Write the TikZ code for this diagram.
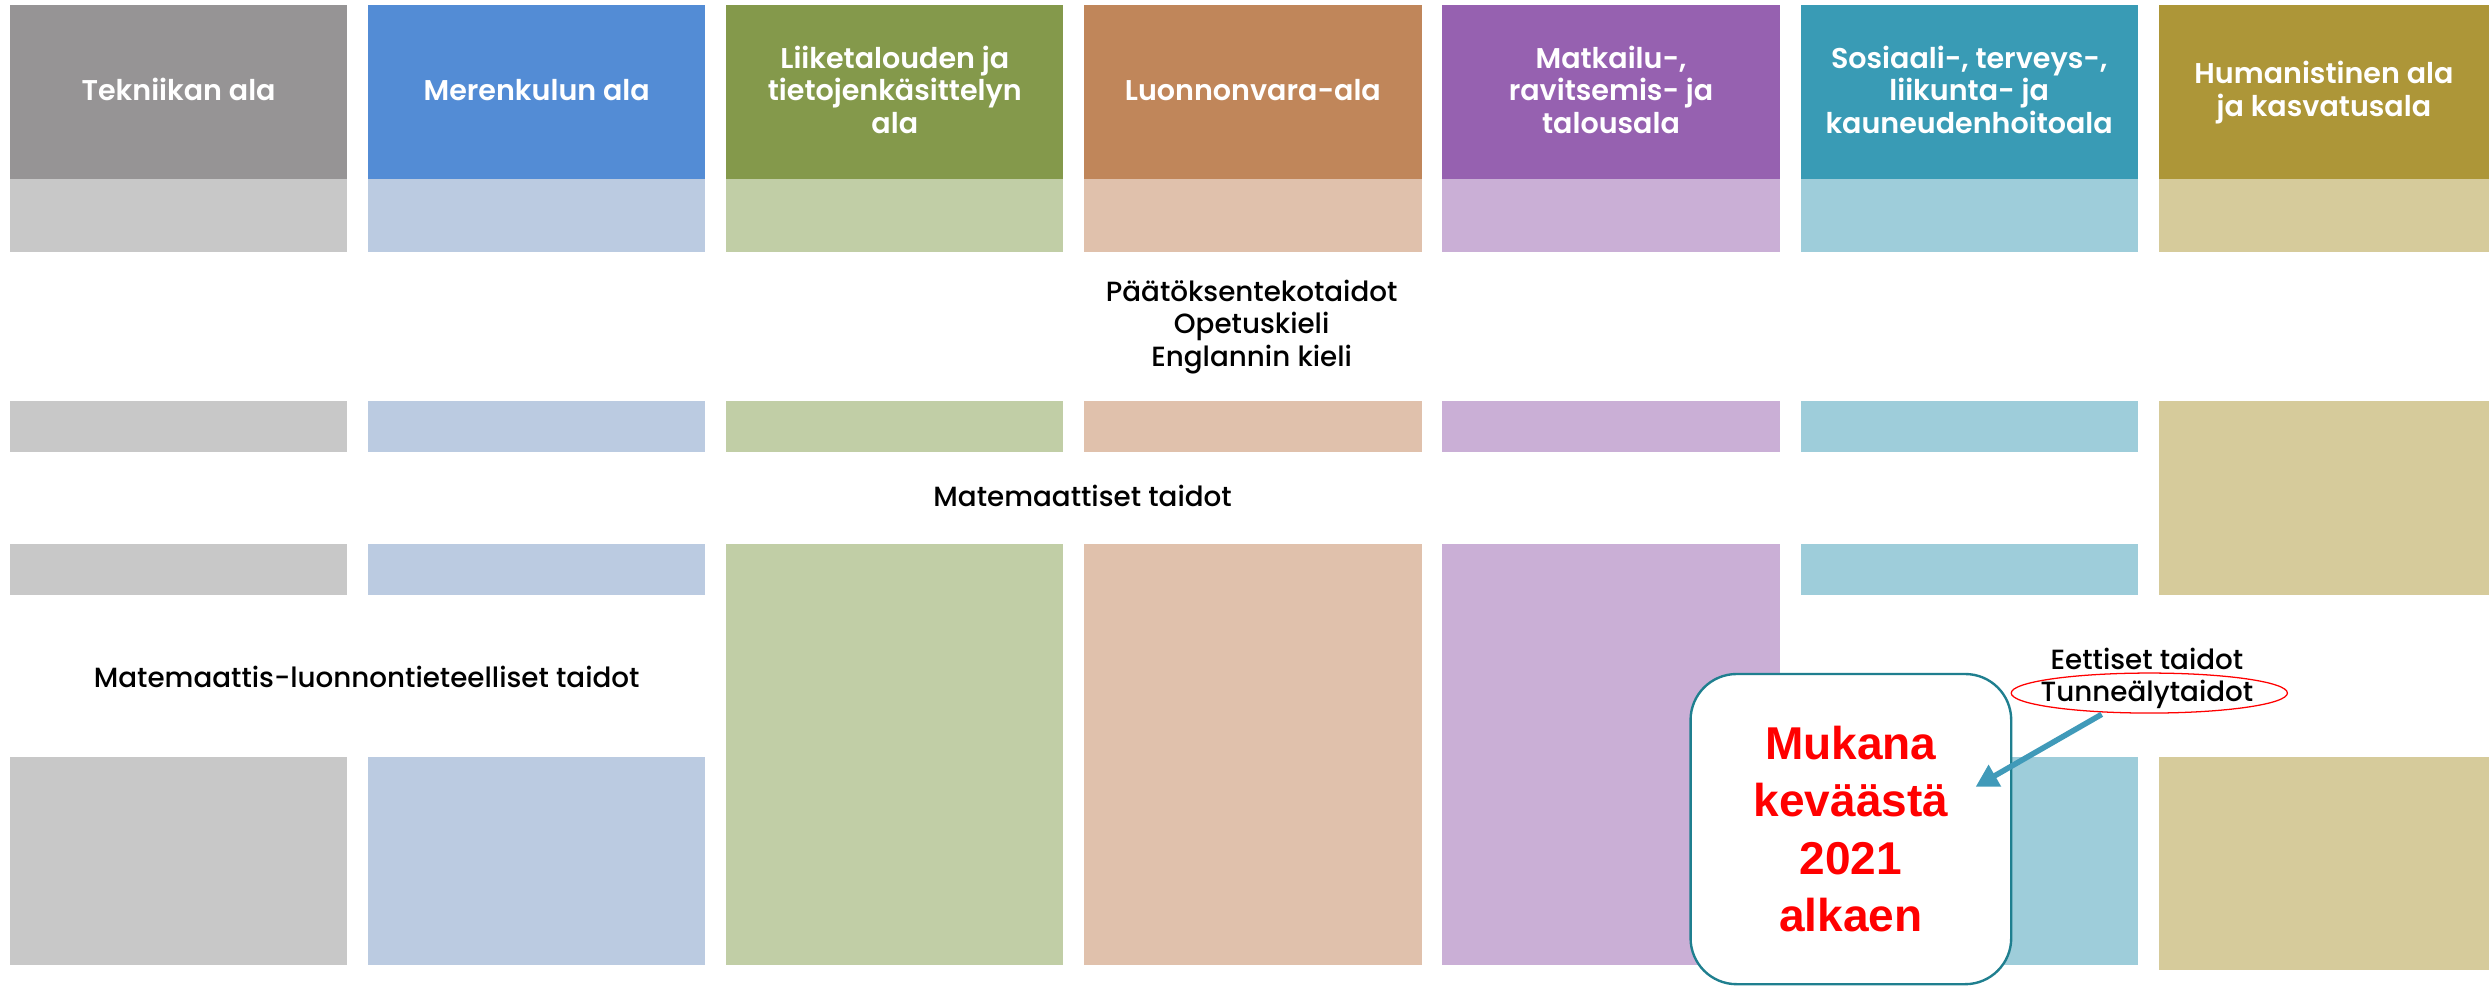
\documentclass[tikz,border=0pt]{standalone}
\usepackage{fontspec}
\setmainfont{Poppins}[BoldFont={Poppins SemiBold}]
\newfontfamily\medfont{Poppins Medium}
\newfontfamily\arialfont{Liberation Sans}
\usetikzlibrary{shapes.geometric,arrows.meta}
\definecolor{c1d}{HTML}{969495}\definecolor{c1l}{HTML}{C8C8C8}
\definecolor{c2d}{HTML}{538CD5}\definecolor{c2l}{HTML}{BBCBE1}
\definecolor{c3d}{HTML}{84994B}\definecolor{c3l}{HTML}{C1CEA6}
\definecolor{c4d}{HTML}{C0865A}\definecolor{c4l}{HTML}{E0C1AC}
\definecolor{c5d}{HTML}{9661B0}\definecolor{c5l}{HTML}{CAAFD6}
\definecolor{c6d}{HTML}{399BB5}\definecolor{c6l}{HTML}{9ECDDA}
\definecolor{c7d}{HTML}{AD9638}\definecolor{c7l}{HTML}{D6CB9B}
\definecolor{calloutc}{HTML}{1F7F8F}
\definecolor{arrowc}{HTML}{409AB9}
\begin{document}
\begin{tikzpicture}[x=1pt,y=-1pt,
  hdr/.style={font=\bfseries\fontsize{18}{20.5}\selectfont, text=white, align=center, inner sep=0},
  lbl/.style={font=\medfont\fontsize{17.5}{20.5}\selectfont, text=black, align=center, inner sep=0},
  callout/.style={draw=calloutc, line width=1.5, fill=white, rounded corners=29,
    minimum width=202, minimum height=195.4, inner sep=0, align=center, text=red,
    font=\arialfont\bfseries\fontsize{29}{36}\selectfont},
  pointer/.style={draw=arrowc, line width=3.5, -{Triangle[length=14pt,width=15pt]}}]
\useasboundingbox (0,0) rectangle (1568,622);
\fill[white] (0,0) rectangle (1568,622);
% header dark boxes
\fill[c1d] (6.3,3.2) rectangle (218.7,113);
\fill[c2d] (231.9,3.2) rectangle (444.3,113);
\fill[c3d] (457.5,3.2) rectangle (669.9,113);
\fill[c4d] (683.1,3.2) rectangle (895.5,113);
\fill[c5d] (908.7,3.2) rectangle (1121.1,113);
\fill[c6d] (1134.3,3.2) rectangle (1346.7,113);
\fill[c7d] (1359.9,3.2) rectangle (1568,113);
% header light bands
\fill[c1l] (6.3,113) rectangle (218.7,158.5);
\fill[c2l] (231.9,113) rectangle (444.3,158.5);
\fill[c3l] (457.5,113) rectangle (669.9,158.5);
\fill[c4l] (683.1,113) rectangle (895.5,158.5);
\fill[c5l] (908.7,113) rectangle (1121.1,158.5);
\fill[c6l] (1134.3,113) rectangle (1346.7,158.5);
\fill[c7l] (1359.9,113) rectangle (1568,158.5);
% band 2
\fill[c1l] (6.3,252.5) rectangle (218.7,285);
\fill[c2l] (231.9,252.5) rectangle (444.3,285);
\fill[c3l] (457.5,252.5) rectangle (669.9,285);
\fill[c4l] (683.1,252.5) rectangle (895.5,285);
\fill[c5l] (908.7,252.5) rectangle (1121.1,285);
\fill[c6l] (1134.3,252.5) rectangle (1346.7,285);
\fill[c7l] (1359.9,252.5) rectangle (1568,375);
% band 3
\fill[c1l] (6.3,342.5) rectangle (218.7,375);
\fill[c2l] (231.9,342.5) rectangle (444.3,375);
\fill[c3l] (457.5,342.5) rectangle (669.9,608);
\fill[c4l] (683.1,342.5) rectangle (895.5,608);
\fill[c5l] (908.7,342.5) rectangle (1121.1,608);
\fill[c6l] (1134.3,342.5) rectangle (1346.7,375);
% band 4
\fill[c1l] (6.3,477) rectangle (218.7,608);
\fill[c2l] (231.9,477) rectangle (444.3,608);
\fill[c6l] (1134.3,477) rectangle (1346.7,608);
\fill[c7l] (1359.9,477) rectangle (1568,611);
% header texts
\node[hdr, anchor=base] (h1) at (112.5,63.4) {Tekniikan ala};
\node[hdr, anchor=base] (h2) at (338.1,63.4) {Merenkulun ala};
\node[hdr] (h3) at (563.7,56.5) {Liiketalouden ja\\tietojenkäsittelyn\\ala};
\node[hdr, anchor=base] (h4) at (789.3,63.4) {Luonnonvara-ala};
\node[hdr] (h5) at (1014.9,56.5) {Matkailu-,\\ravitsemis- ja\\talousala};
\node[hdr] (h6) at (1240.5,56.5) {Sosiaali-, terveys-,\\liikunta- ja\\kauneudenhoitoala};
\node[hdr] (h7) at (1464,58.3) {Humanistinen ala\\ja kasvatusala};
% skill labels
\node[lbl] (pt) at (788.5,206) {Päätöksentekotaidot\\Opetuskieli\\Englannin kieli};
\node[lbl, anchor=base] (mt) at (682,319) {Matemaattiset taidot};
\node[lbl, anchor=base] (ml) at (231,433) {Matemaattis-luonnontieteelliset taidot};
\node[lbl, anchor=base] (et) at (1352.5,421.6) {Eettiset taidot};
\node[lbl, anchor=base] (tu) at (1352.5,442) {Tunneälytaidot};
\draw[red, line width=0.8] (1354,436.6) ellipse [x radius=87, y radius=12.6];
% callout
\node[callout] (co) at (1166,522.3) {Mukana\\keväästä\\2021\\alkaen};
\coordinate (tail) at (1324,450);
\coordinate (tip) at (1244.6,495.6);
\draw[pointer] (tail) -- (tip);
\end{tikzpicture}
\end{document}
